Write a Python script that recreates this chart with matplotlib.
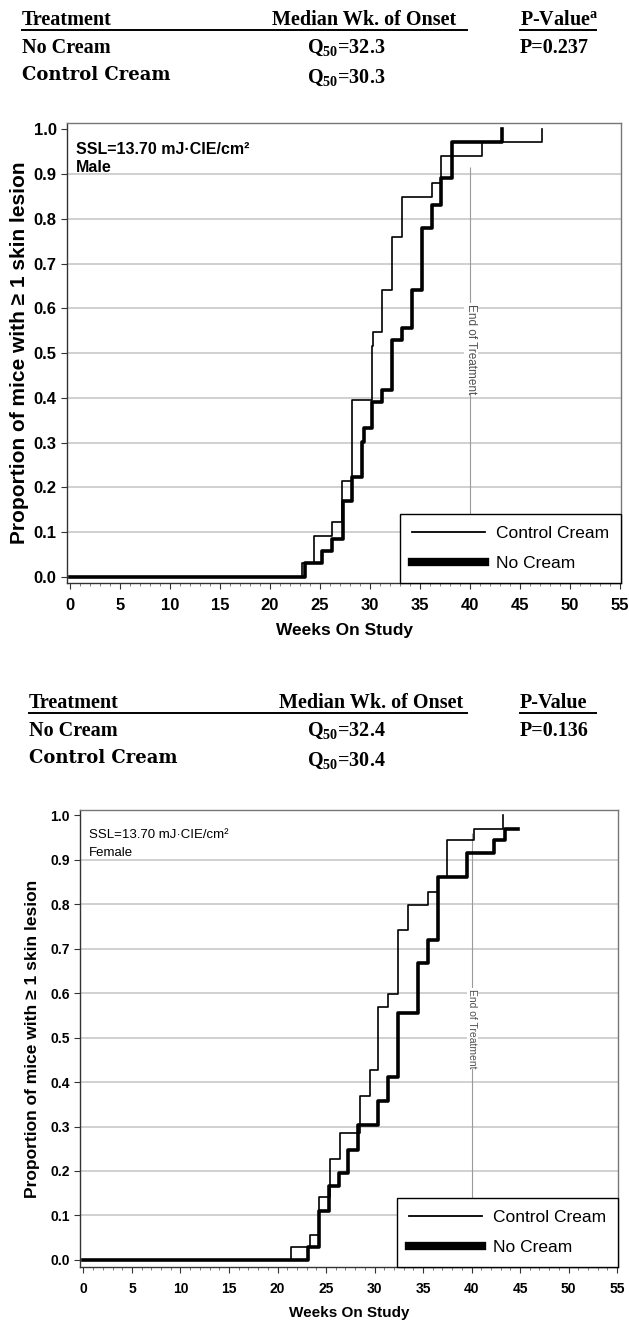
import matplotlib
matplotlib.use("Agg")
import matplotlib.pyplot as plt
from matplotlib.lines import Line2D
import numpy as np

W, H = 629, 1332
plt.rcParams['font.family'] = ['Liberation Sans', 'DejaVu Sans']
plt.rcParams['mathtext.fontset'] = 'custom'
plt.rcParams['mathtext.rm'] = 'Liberation Serif:bold'
plt.rcParams['mathtext.bf'] = 'Liberation Serif:bold'
plt.rcParams['mathtext.it'] = 'Liberation Serif:bold:italic'

# ---------------- data ----------------
series_names = ["Control Cream", "No Cream"]

# Male panel
male_control_weeks = [0, 23.2, 24.4, 26.2, 27.2, 28.2, 30.2, 30.3, 31.2, 32.2, 33.2, 36.2, 37.1, 41.2, 47.2]
male_control_prop = [0, 0.030, 0.092, 0.123, 0.214, 0.395, 0.515, 0.547, 0.640, 0.759, 0.849, 0.881, 0.940, 0.973, 1.0]
male_nocream_weeks = [0, 23.5, 25.2, 26.2, 27.3, 28.2, 29.2, 29.4, 30.2, 31.2, 32.2, 33.2, 34.2, 35.2, 36.2, 37.1, 38.2, 43.2]
male_nocream_prop = [0, 0.030, 0.058, 0.084, 0.169, 0.224, 0.302, 0.333, 0.391, 0.418, 0.529, 0.557, 0.640, 0.779, 0.831, 0.891, 0.973, 1.0]

# Female panel
female_control_weeks = [0, 21.4, 23.3, 24.3, 25.4, 26.4, 28.5, 29.5, 30.4, 31.4, 32.45, 33.45, 35.55, 36.55, 37.45, 40.3, 43.2]
female_control_prop = [0, 0.028, 0.056, 0.141, 0.227, 0.285, 0.369, 0.427, 0.569, 0.598, 0.743, 0.799, 0.828, 0.861, 0.944, 0.970, 1.0]
female_nocream_weeks = [0, 23.1, 24.3, 25.3, 26.3, 27.3, 28.3, 30.4, 31.4, 32.45, 34.5, 35.55, 36.55, 39.5, 42.3, 43.4, 44.8]
female_nocream_prop = [0, 0.028, 0.109, 0.166, 0.196, 0.247, 0.303, 0.358, 0.412, 0.556, 0.668, 0.719, 0.861, 0.915, 0.944, 0.970, 0.970]

table_header = ["Treatment", "Median Wk. of Onset", "P-Value"]
male_medians = ["32.3", "30.3"]
male_p = "P=0.237"
female_medians = ["32.4", "30.4"]
female_p = "P=0.136"
end_of_treatment_week = 40
x_ticks = list(range(0, 56, 5))
y_ticks = [round(0.1 * i, 1) for i in range(11)]

fig = plt.figure(figsize=(W / 100, H / 100), dpi=100)


def fx(x):
    return x / W


def fy(y):
    return 1 - y / H


def hline(x0, x1, y, lw=1.4):
    fig.add_artist(Line2D([fx(x0), fx(x1)], [fy(y), fy(y)], color='black', lw=lw,
                          transform=fig.transFigure))


def table(y0, dx, medians, pval, psup):
    serif = 'Liberation Serif'
    fs = 14.5
    fig.text(fx(22 + dx), fy(y0), table_header[0], family=serif, weight='bold', fontsize=fs, va='baseline')
    fig.text(fx(272 + dx), fy(y0), table_header[1], family=serif, weight='bold', fontsize=fs, va='baseline')
    fig.text(fx(520), fy(y0), table_header[2] + (r'$^{\mathrm{a}}$' if psup else ''),
             family=serif, weight='bold', fontsize=fs, va='baseline')
    hline(22 + dx, 467, y0 + 4.5)
    hline(520, 596, y0 + 4.5)
    fig.text(fx(22 + dx), fy(y0 + 28), series_names[1], family=serif, weight='bold', fontsize=fs, va='baseline')
    fig.text(fx(22 + dx), fy(y0 + 55), series_names[0], family='DejaVu Serif', weight='bold', fontsize=13,
             va='baseline')
    fig.text(fx(307), fy(y0 + 28), r'Q$_{50}$=' + medians[0], family=serif, weight='bold', fontsize=fs,
             va='baseline')
    fig.text(fx(307), fy(y0 + 58), r'Q$_{50}$=' + medians[1], family=serif, weight='bold', fontsize=fs,
             va='baseline')
    fig.text(fx(520), fy(y0 + 28), pval, family=serif, weight='bold', fontsize=fs, va='baseline')


table(25, 0, male_medians, male_p, True)
table(708, 7, female_medians, female_p, False)


def panel(box, xlim, ylim, ctrl, noc, sex, tick_fs, label_fs, ylab_fs, ylab_x, txt_fs, txt_weight,
          eot_top, eot_y, eot_fs, leg_fs, xlab_pad):
    l, r, t, b = box
    ax = fig.add_axes([fx(l), fy(b), fx(r) - fx(l), fy(t) - fy(b)])
    ax.set_xlim(*xlim)
    ax.set_ylim(*ylim)
    for yv in y_ticks[1:-1]:
        ax.axhline(yv, color='#c8c8c8', lw=1.2, zorder=0)
    ax.vlines(end_of_treatment_week, 0, eot_top, color='#9a9a9a', lw=0.8, zorder=1)
    ax.text(end_of_treatment_week + 0.1, eot_y, 'End of Treatment', rotation=270, ha='center', va='center',
            fontsize=eot_fs, color='#505050', zorder=2,
            bbox=dict(facecolor='white', edgecolor='none', pad=0.5))
    ax.plot(ctrl[0], ctrl[1], drawstyle='steps-post', color='black', lw=1.2, zorder=3)
    ax.plot(noc[0], noc[1], drawstyle='steps-post', color='black', lw=2.6, zorder=4)
    ax.set_xticks(x_ticks)
    ax.set_xticks(np.arange(0, 56, 1), minor=True)
    ax.set_yticks(y_ticks)
    ax.set_yticklabels([f'{v:.1f}' for v in y_ticks])
    ax.tick_params(axis='both', which='major', labelsize=tick_fs, length=4, width=0.8, colors='#333333',
                   labelcolor='black')
    ax.tick_params(axis='x', which='minor', length=2, width=0.6, colors='#666666')
    ax.tick_params(axis='x', which='major', pad=xlab_pad)
    for lab in ax.get_xticklabels() + ax.get_yticklabels():
        lab.set_fontweight('bold')
    for s in ax.spines.values():
        s.set_color('#777777')
        s.set_linewidth(1.0)
    ax.spines['left'].set_color('#333333')
    ax.spines['bottom'].set_color('#333333')
    ax.set_xlabel('Weeks On Study', fontsize=label_fs, fontweight='bold', labelpad=7)
    fig.text(fx(ylab_x), (fy(t) + fy(b)) / 2, 'Proportion of mice with \u2265 1 skin lesion', rotation=90,
             ha='center', va='center', fontsize=ylab_fs, fontweight='bold')
    ax.text(0.6, 0.956, 'SSL=13.70 mJ\u00b7CIE/cm\u00b2', fontsize=txt_fs, fontweight=txt_weight, va='center')
    ax.text(0.6, 0.916, sex, fontsize=txt_fs, fontweight=txt_weight, va='center')
    handles = [Line2D([], [], color='black', lw=1.3), Line2D([], [], color='black', lw=6)]
    leg = ax.legend(handles, series_names, loc='lower right', bbox_to_anchor=(1.0, 0.0), borderaxespad=0,
                    fontsize=leg_fs, handlelength=4.2, handletextpad=0.6, labelspacing=0.85,
                    borderpad=0.7, fancybox=False, framealpha=1, edgecolor='black')
    leg.get_frame().set_linewidth(1.0)
    leg.set_zorder(10)
    return ax


panel((67, 621, 123, 583), (-0.3, 55.1), (-0.014, 1.0145),
      (male_control_weeks, male_control_prop), (male_nocream_weeks, male_nocream_prop), 'Male',
      12, 12.5, 15, 20, 11.5, 'bold', 0.917, 0.51, 8.5, 12.5, 7)
panel((80, 618, 810, 1267), (-0.36, 55.1), (-0.016, 1.012),
      (female_control_weeks, female_control_prop), (female_nocream_weeks, female_nocream_prop), 'Female',
      10, 11, 12.5, 33, 9.5, 'normal', 0.96, 0.52, 7.5, 12.5, 7)

fig.savefig('out.png', dpi=100)
